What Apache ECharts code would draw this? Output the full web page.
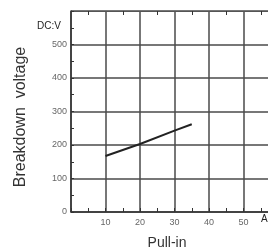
<!DOCTYPE html>
<html><head><meta charset="utf-8">
<script src="https://cdn.jsdelivr.net/npm/echarts@6/dist/echarts.min.js"></script>
<style>html,body{margin:0;padding:0;background:#fff}#c{width:268px;height:249px}</style>
</head><body><div id="c"></div>
<script>
const pullIn = [10, 20, 30, 35];
const voltage = [167, 203, 243, 262];
const yTicks = [0, 100, 200, 300, 400, 500];
const xTicks = [10, 20, 30, 40, 50];

const chart = echarts.init(document.getElementById('c'), null, {renderer: 'canvas'});
const gridColor = '#4a4a4a';
chart.setOption({
  animation: false,
  backgroundColor: '#fff',
  grid: {left: 71, top: 11, height: 201, width: 207, outerBoundsMode: 'none', containLabel: false},
  xAxis: [{
    type: 'value', min: 0, max: 60, interval: 10, position: 'bottom',
    axisLine: {lineStyle: {color: '#333', width: 1.5}},
    axisTick: {show: true, inside: true, length: 4, lineStyle: {color: '#333'}},
    minorTick: {show: true, splitNumber: 2, length: 4, lineStyle: {color: '#333', width: 1}},
    splitLine: {show: true, lineStyle: {color: gridColor, width: 1.5}},
    axisLabel: {color: '#666', fontSize: 9, fontFamily: 'Liberation Sans', margin: 6,
      formatter: v => xTicks.includes(v) ? String(v) : ''}
  }, {
    type: 'value', min: 0, max: 60, interval: 10, position: 'top',
    axisLine: {show: true, lineStyle: {color: '#555', width: 1}},
    axisTick: {show: false, inside: true},
    minorTick: {show: true, splitNumber: 2, length: 4, lineStyle: {color: '#333', width: 1}},
    splitLine: {show: false}, axisLabel: {show: false}
  }],
  yAxis: {
    type: 'value', min: 0, max: 600, interval: 100,
    axisLine: {show: true, lineStyle: {color: '#333', width: 1.5}},
    axisTick: {show: true, inside: true, length: 3, lineStyle: {color: '#333'}},
    minorTick: {show: true, splitNumber: 2, length: 3, lineStyle: {color: '#333', width: 1}},
    splitLine: {show: true, lineStyle: {color: gridColor, width: 1.5}},
    axisLabel: {color: '#666', fontSize: 9, fontFamily: 'Liberation Sans', margin: 4,
      formatter: v => yTicks.includes(v) ? String(v) : ''}
  },
  graphic: [
    {type: 'text', left: 37, top: 21, style: {text: 'DC:V', fontSize: 10, fill: '#222', fontFamily: 'Liberation Sans'}},
    {type: 'text', left: 261, top: 214, style: {text: 'A', fontSize: 10, fill: '#222', fontFamily: 'Liberation Sans'}},
    {type: 'text', x: 21, y: 117, rotation: Math.PI / 2, style: {text: 'Breakdown  voltage', fontSize: 16, fill: '#333', fontFamily: 'Liberation Sans', align: 'center', verticalAlign: 'middle'}},
    {type: 'text', x: 167, y: 243, style: {text: 'Pull-in', fontSize: 14, fill: '#333', fontFamily: 'Liberation Sans', align: 'center', verticalAlign: 'middle'}}
  ],
  series: [{
    type: 'line', data: pullIn.map((x, i) => [x, voltage[i]]),
    showSymbol: false, lineStyle: {color: '#222', width: 2}
  }]
});
</script></body></html>
